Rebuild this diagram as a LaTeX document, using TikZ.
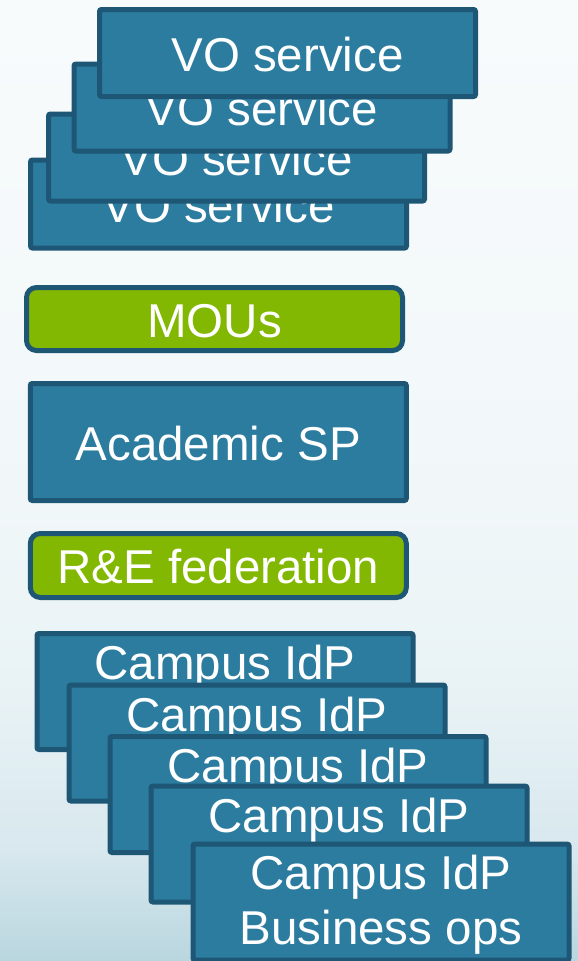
\documentclass[tikz,border=0pt]{standalone}
\usepackage{fontspec}
\setmainfont{Liberation Sans}
\definecolor{tealf}{HTML}{2C7CA0}
\definecolor{bord}{HTML}{1E5775}
\definecolor{leaf}{HTML}{82B801}
\definecolor{bgB}{HTML}{B9D6DF}
\definecolor{bgC}{HTML}{D8E8EE}
\definecolor{bgD}{HTML}{E8F2F5}
\definecolor{bgE}{HTML}{F1F7F9}
\definecolor{bgT}{HTML}{F8FBFC}
\pgfdeclareverticalshading{bgshade}{100bp}{color(0bp)=(bgB); color(25bp)=(bgB); color(30.8bp)=(bgC); color(38.6bp)=(bgD); color(49bp)=(bgE); color(75bp)=(bgT); color(100bp)=(bgT)}
\tikzset{
  bluebox/.style={draw=bord, fill=tealf, line width=5pt, rounded corners=2pt, inner sep=0pt, minimum width=376pt},
  greenbox/.style={draw=bord, fill=leaf, line width=5pt, rounded corners=10pt, inner sep=0pt, minimum width=376pt},
  lbl/.style={text=white, font=\fontsize{47.5}{55}\selectfont, anchor=base, inner sep=0pt}
}
\begin{document}
\begin{tikzpicture}[x=1pt, y=-1pt]
\useasboundingbox (0,0) rectangle (578,961);
\shade[shading=bgshade] (0,0) rectangle (578,961);
% VO service stack (back to front)
\node[bluebox, minimum height=88pt] (v4) at (218.5,204) {};
\node[lbl] (v4t) at ([yshift=-18pt]v4.center) {VO service};
\node[bluebox, minimum height=87pt] (v3) at (236.5,157.5) {};
\node[lbl] (v3t) at ([yshift=-18pt]v3.center) {VO service};
\node[bluebox, minimum height=87pt] (v2) at (262,107.5) {};
\node[lbl] (v2t) at ([yshift=-18pt]v2.center) {VO service};
\node[bluebox, minimum height=87pt] (v1) at (287.5,53) {};
\node[lbl] (v1t) at ([yshift=-18pt]v1.center) {VO service};
% middle
\node[greenbox, minimum height=63pt] (mou) at (214.5,319) {};
\node[lbl] (mout) at ([yshift=-18pt]mou.center) {MOUs};
\node[bluebox, minimum height=117pt] (asp) at (218.3,442) {};
\node[lbl] (aspt) at ([yshift=-18pt]asp.center) {Academic SP};
\node[greenbox, minimum height=64pt] (ref) at (218.3,565.5) {};
\node[lbl] (reft) at ([yshift=-18pt]ref.center) {R\&E federation};
% Campus IdP stack
\node[bluebox, minimum height=116pt] (b1) at (225,691.5) {};
\node[lbl] (b1t) at ([yshift=-48.5pt]b1.north) {Campus IdP};
\node[bluebox, minimum height=116pt] (b2) at (257,743) {};
\node[lbl] (b2t) at ([yshift=-48.5pt]b2.north) {Campus IdP};
\node[bluebox, minimum height=116pt] (b3) at (298,794.5) {};
\node[lbl] (b3t) at ([yshift=-48.5pt]b3.north) {Campus IdP};
\node[bluebox, minimum height=116pt] (b4) at (339,844) {};
\node[lbl] (b4t) at ([yshift=-48.5pt]b4.north) {Campus IdP};
\node[bluebox, minimum height=116pt] (b5) at (381,902) {};
\node[lbl] (b5t) at ([yshift=-47.5pt]b5.north) {Campus IdP};
\node[lbl] (b5u) at ([yshift=-102.5pt]b5.north) {Business ops};
\end{tikzpicture}
\end{document}
